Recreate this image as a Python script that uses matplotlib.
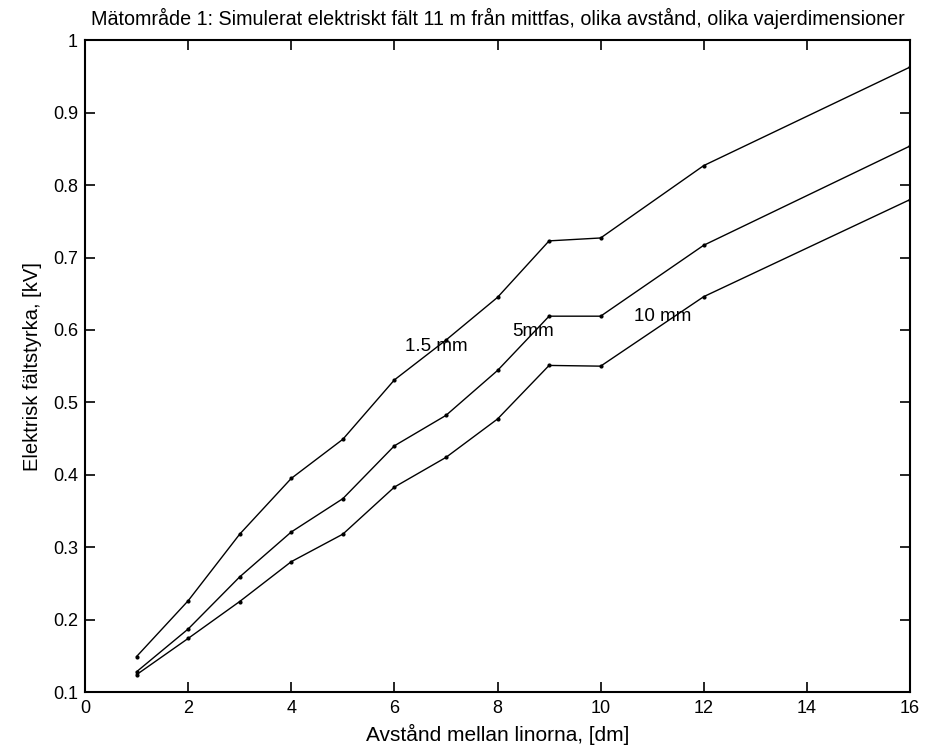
import numpy as np
import matplotlib
matplotlib.use("Agg")
import matplotlib.pyplot as plt
from matplotlib.ticker import FormatStrFormatter

plt.rcParams['font.family'] = ['Liberation Sans', 'DejaVu Sans']

# avstånd mellan linorna [dm]
avstand = [1, 2, 3, 4, 5, 6, 7, 8, 9, 10, 12, 16]

# simulerat fält [kV] för tre vajerdimensioner
falt_15mm = [0.149, 0.226, 0.318, 0.395, 0.449, 0.531, 0.586, 0.645, 0.723, 0.727, 0.827, 0.963]
falt_5mm = [0.128, 0.187, 0.259, 0.321, 0.367, 0.440, 0.482, 0.544, 0.619, 0.619, 0.717, 0.854]
falt_10mm = [0.124, 0.174, 0.225, 0.280, 0.318, 0.383, 0.424, 0.477, 0.551, 0.550, 0.646, 0.780]

etiketter = ['1.5 mm', '5mm', '10 mm']
etikett_x = [6.2, 8.28, 10.65]
etikett_y = [0.577, 0.598, 0.619]

fig = plt.figure(figsize=(9.27, 7.5), dpi=100)
ax = fig.add_axes([0.0917, 0.0773, 0.890, 0.869])

for serie in [falt_15mm, falt_5mm, falt_10mm]:
    ax.plot(avstand, serie, color='black', linewidth=1.0, marker='.', markersize=4)

for txt, tx, ty in zip(etiketter, etikett_x, etikett_y):
    ax.text(tx, ty, txt, fontsize=13.5, va='center', ha='left')

ax.set_xlim(0, 16)
ax.set_ylim(0.1, 1.0)
ax.set_xticks(np.arange(0, 17, 2))
ax.set_yticks(np.arange(0.1, 1.01, 0.1))
ax.yaxis.set_major_formatter(FormatStrFormatter('%g'))
ax.tick_params(direction='in', top=True, right=True, length=7, width=1.2, labelsize=13)
ax.tick_params(axis='x', pad=6)
ax.tick_params(axis='y', pad=5)
for sp in ax.spines.values():
    sp.set_linewidth(1.5)

ax.set_title('Mätområde 1: Simulerat elektriskt fält 11 m från mittfas, olika avstånd, olika vajerdimensioner',
             fontsize=14.2, pad=11)
ax.set_xlabel('Avstånd mellan linorna, [dm]', fontsize=15, labelpad=5)
ax.set_ylabel('Elektrisk fältstyrka, [kV]', fontsize=14.5, labelpad=8)

fig.savefig('out.png', dpi=100)
